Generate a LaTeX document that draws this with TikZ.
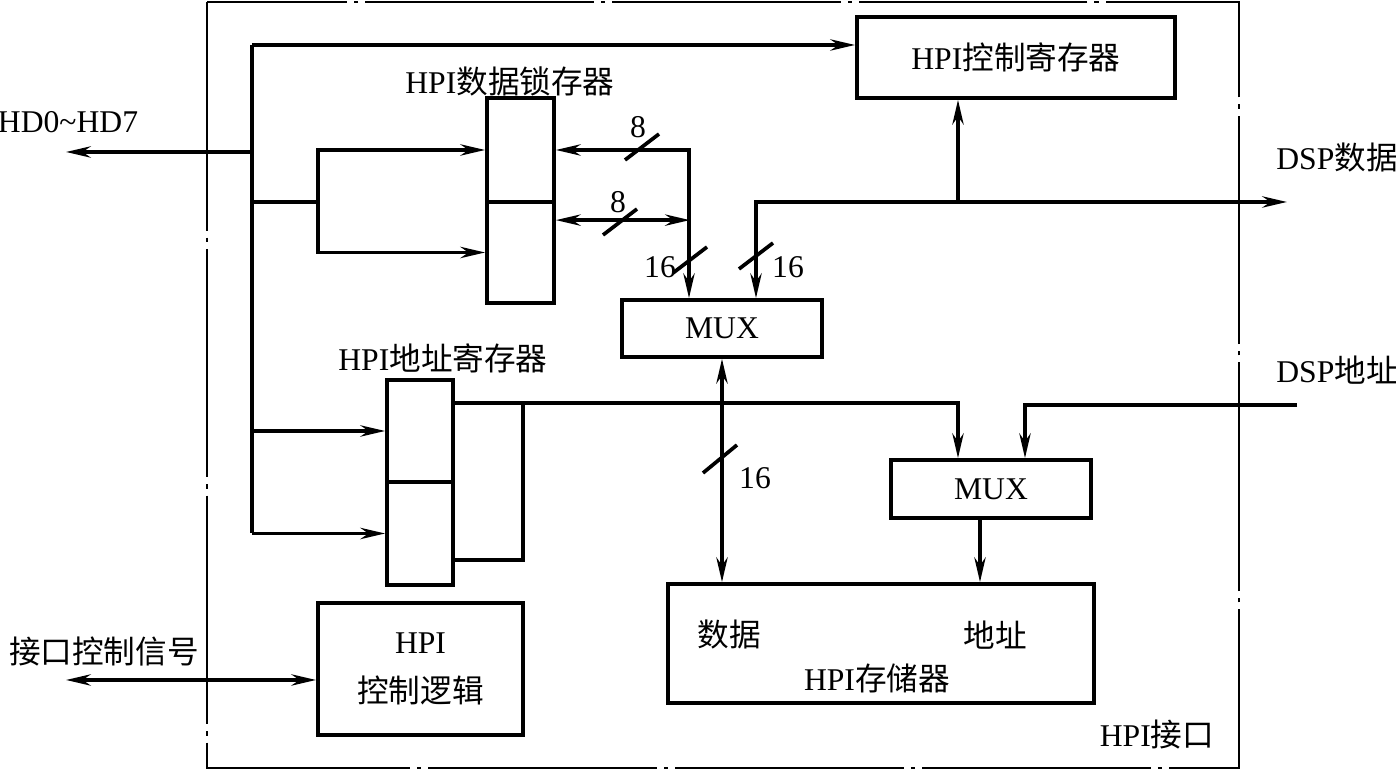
\documentclass[tikz,border=0pt]{standalone}
\usepackage{fontspec}
\setmainfont{Liberation Serif}
\newfontfamily\cjk{Noto Sans CJK SC}
\newcommand{\zh}[1]{{\cjk #1}}
\usepackage{tikz}
\usetikzlibrary{positioning, arrows.meta, calc}

\tikzset{
  blk/.style={draw, line width=1.05pt, inner sep=0pt},
  wire/.style={line width=1.05pt},
  arr/.style={wire, -{Stealth[length=7pt, width=3.2pt]}},
  darr/.style={wire, {Stealth[length=7pt, width=3.2pt]}-{Stealth[length=7pt, width=3.2pt]}},
  frame/.style={line width=0.8pt, dash pattern=on 65pt off 2pt on 1.2pt off 2pt},
}

\begin{document}
\begin{tikzpicture}[x=0.01cm, y=-0.01cm, font=\fontsize{9}{11}\selectfont]
			\useasboundingbox (0,0) rectangle (1396,771);

			% HPI interface frame
			\draw[frame] (207,2) rectangle (1239,768);
			\node (hpiif) at (1157,735) {HPI\zh{接口}};

			% Registers and blocks
			\node[blk, minimum width=3.18cm, minimum height=0.81cm] (creg) at (1016,57.5) {HPI\zh{控制寄存器}};
			\node (dlatlbl) at (510,81) {HPI\zh{数据锁存器}};
			\node[blk, minimum width=0.67cm, minimum height=1.04cm] (dl1) at (520.5,150) {};
			\node[blk, minimum width=0.67cm, minimum height=1.01cm] (dl2) at (520.5,252.5) {};
			\node[blk, minimum width=2.0cm, minimum height=0.57cm] (mux1) at (722,328.5) {MUX};
			\node (aregl) at (443,358) {HPI\zh{地址寄存器}};
			\node[blk, minimum width=0.66cm, minimum height=1.02cm] (ar1) at (420,431) {};
			\node[blk, minimum width=0.66cm, minimum height=1.03cm] (ar2) at (420,533.5) {};
			\node[blk, minimum width=2.0cm, minimum height=0.58cm] (mux2) at (991,489) {MUX};
			\node[blk, minimum width=4.26cm, minimum height=1.19cm] (mem) at (881,643.5) {};
			\node (memd) at (729,635) {\zh{数据}};
			\node (mema) at (995,635) {\zh{地址}};
			\node (meml) at (877,678) {HPI\zh{存储器}};
			\node[blk, minimum width=2.05cm, minimum height=1.32cm, align=center] (ctl) at (420.5,669)
				{HPI\\[3pt]\zh{控制逻辑}};

			% Outside signals
			\node (hdlbl) at (68,122) {HD0\textasciitilde HD7};
			\node (dspdl) at (1337,158) {DSP\zh{数据}};
			\node (dspal) at (1337,370) {DSP\zh{地址}};
			\node (ctlsig) at (104,652) {\zh{接口控制信号}};

			\coordinate (bt) at (252,45);
			\coordinate (hd) at (66,152);
			\coordinate (fork) at (318,202);
			\coordinate (dspd) at (1287,202);
			\coordinate (dspa) at (1297,405);
			\coordinate (cs) at (66,680);
			\coordinate (m1a) at ($(mux1.north)+(-33,0)$);
			\coordinate (m1b) at ($(mux1.north)+(34,0)$);
			\coordinate (cin) at ($(creg.south)+(-58,0)$);
			\coordinate (aout) at ($(ar1.north east)+(0,25)$);
			\coordinate (m2a) at ($(mux2.north)+(-33,0)$);
			\coordinate (m2b) at ($(mux2.north)+(34,0)$);
			\coordinate (m2o) at ($(mux2.south)+(-11,0)$);

			% Host bus
			\draw[wire] (bt) -- (bt |- ar2.west);
			\draw[arr] (bt) -- (bt -| creg.west);
			\draw[arr] (bt |- hd) -- (hd);
			\draw[wire] (bt |- fork) -- (fork);
			\draw[arr] (fork) |- (dl1.west);
			\draw[arr] (fork) |- (dl2.west);
			\draw[arr] (bt |- ar1.west) -- (ar1.west);
			\draw[arr] (bt |- ar2.west) -- (ar2.west);

			% Data path
			\draw[darr] (dl1.east) -| (m1a);
			\draw[darr] ($(dl2.north east)+(0,20)$) -- ++(134,0);
			\draw[darr] (m1b) |- (dspd);
			\draw[arr] (cin |- dspd) -- (cin);
			\draw[darr] (mux1.south) -- (mux1.south |- mem.north);

			% Address path
			\draw[wire] ($(aout)+(68,0)$) |- ($(ar2.south east)+(0,-27)$);
			\draw[arr] (aout) -| (m2a);
			\draw[arr] (dspa) -| (m2b);
			\draw[arr] (m2o) -- (m2o |- mem.north);

			% Control signals
			\draw[darr] (cs) -- (cs -| ctl.west);

			% Bus widths
			\draw[wire] (642,147) ++(-17,13) -- ++(34,-26);
			\node (w1) at (638,127) {8};
			\draw[wire] (620,222) ++(-17,13) -- ++(34,-26);
			\node (w2) at (618,202) {8};
			\draw[wire] (690,260) ++(-17,13) -- ++(34,-26);
			\node (w3) at (660,267) {16};
			\draw[wire] (756,256) ++(-17,13) -- ++(34,-26);
			\node (w4) at (788,267) {16};
			\draw[wire] (720,459) ++(-17,14) -- ++(34,-28);
			\node (w5) at (755,478) {16};
		\end{tikzpicture}
\end{document}
